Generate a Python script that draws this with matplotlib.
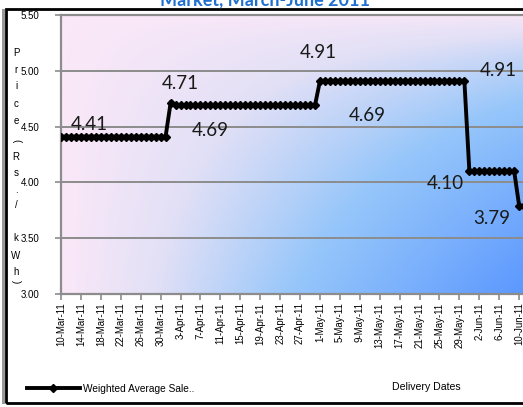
import numpy as np
import pandas as pd
import matplotlib
matplotlib.use("Agg")
import matplotlib.pyplot as plt
from matplotlib.colors import LinearSegmentedColormap
from matplotlib.lines import Line2D
from matplotlib.patches import Rectangle

# Weighted average sale price per delivery day (Rs./kWh), as runs of equal price
start_date = "2011-03-10"
price_levels = [4.41, 4.71, 4.69, 4.91, 4.10, 3.79]
days_at_level = [22, 1, 29, 30, 10, 2]

# Which days carry a value label, and where the label sits (pixel offset)
label_days = [0, 22, 23, 52, 51, 81, 82, 92]
label_offsets = [(28, 12), (10, 20), (35, -25), (-2, 28), (52, -10), (34, 10), (-24, -12), (-27, -13)]

series_name = "Weighted Average Sale.."
x_title = "Delivery Dates"
y_title = "Price (Rs./kWh)"
chart_title = "Market, March-June 2011"

prices = np.repeat(price_levels, days_at_level)
dates = pd.date_range(start_date, periods=len(prices), freq="D")
day_no = np.arange(len(prices))

W, H = 523, 407
fig = plt.figure(figsize=(W / 100, H / 100), dpi=100)
fig.patch.set_facecolor("white")

# chart frame with a little shadow on the left
fig.add_artist(Rectangle((2 / W, 3 / H), 3 / W, (H - 12) / H, transform=fig.transFigure,
                         facecolor="#9a9a9a", edgecolor="none"))
fig.add_artist(Rectangle((6 / W, 4 / H), (W + 10) / W, (H - 12.5) / H, transform=fig.transFigure,
                         facecolor="none", edgecolor="black", lw=2.0))

ax = fig.add_axes([61 / W, (H - 294) / H, (W - 61) / W, 279 / H])

# pink-to-blue background fill
cmap = LinearSegmentedColormap.from_list(
    "bg", [(0.0, (250/255, 232/255, 248/255)),
           (0.2, (226/255, 224/255, 246/255)),
           (0.5, (150/255, 198/255, 250/255)),
           (1.0, (92/255, 152/255, 255/255))])
gx, gy = np.meshgrid(np.linspace(0, 1, 300), np.linspace(0, 1, 200))
ax.imshow(gx * gy ** 0.6, cmap=cmap, extent=[0, 1, 0, 1], transform=ax.transAxes,
          aspect="auto", origin="upper", zorder=0, interpolation="bilinear")

ax.set_ylim(3.0, 5.5)
ax.set_xlim(0, (W - 61) / 4.98)
ax.set_yticks(np.arange(3.0, 5.51, 0.5))
ax.set_yticklabels([f"{v:.2f}" for v in np.arange(3.0, 5.51, 0.5)],
                   fontsize=7, family="Liberation Sans")
ax.grid(axis="y", color="#8c8c8c", lw=1.4, zorder=1)
ax.set_axisbelow(True)

tick_days = day_no[::4]
ax.set_xticks(tick_days)
ax.set_xticklabels([f"{d.day}-{d.strftime('%b-%y')}" for d in dates[::4]],
                   rotation=90, fontsize=6.9, family="Liberation Sans")
ax.tick_params(axis="both", color="#8c8c8c", length=4, width=1.2, pad=2)
ax.tick_params(axis="y", pad=11.5)

for side in ["left", "top", "bottom"]:
    ax.spines[side].set_color("#8c8c8c")
    ax.spines[side].set_linewidth(1.6)
ax.spines["right"].set_visible(False)

ax.plot(day_no, prices, color="black", lw=2.8, marker="D", ms=4.2,
        solid_joinstyle="miter", zorder=3, clip_on=True)

for d, (ox, oy) in zip(label_days, label_offsets):
    ax.annotate(f"{prices[d]:.2f}", xy=(d, prices[d]), xytext=(ox, oy),
                textcoords="offset pixels", ha="center", va="center",
                fontsize=13.5, family="Lato", color="#1a1a1a", zorder=4)

# vertical axis title, one character per line (the space becomes a gap)
ychars = list(y_title.replace(" ", ""))
ypos = [53, 70, 86, 104, 121, 141, 157, 173, 190, 205, 238, 256, 272, 282]
for ch, yp in zip(ychars, ypos):
    fig.text(16 / W, 1 - yp / H, ch, ha="center", va="center", fontsize=7,
             family="Liberation Sans", rotation=-90 if ch in "()" else 0)

fig.text(426 / W, 1 - 387 / H, x_title, ha="center", va="center",
         fontsize=7.6, family="Liberation Sans")
fig.text(265 / W, 1 - 5 / H, chart_title, ha="center", va="baseline",
         fontsize=13, fontweight="bold", family="Lato", color="#1f6fd0")

handle = Line2D([], [], color="black", lw=2.8, marker="D", ms=4.2)
fig.legend([handle], [series_name], loc="center left",
           bbox_to_anchor=(18 / W, 1 - 389 / H), frameon=False,
           handlelength=5.2, handletextpad=0.3, numpoints=1,
           prop={"family": "Liberation Sans", "size": 7.3})

fig.savefig("out.png", dpi=100)
